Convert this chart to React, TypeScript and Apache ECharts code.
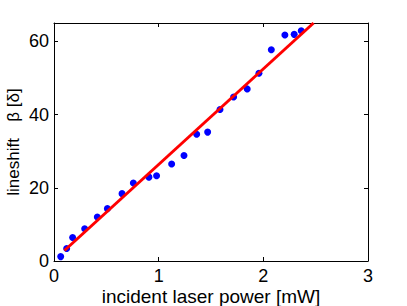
import React, { useEffect, useRef } from "react";
import * as echarts from "echarts";

const powerMW = [0.064, 0.121, 0.178, 0.293, 0.414, 0.51, 0.65, 0.758, 0.907, 0.98, 1.124, 1.242, 1.363, 1.468, 1.586, 1.716, 1.846, 1.958, 2.076, 2.206, 2.295, 2.362];
const lineshift = [1.2, 3.4, 6.4, 8.8, 12.0, 14.3, 18.4, 21.3, 22.9, 23.3, 26.5, 28.8, 34.6, 35.2, 41.4, 44.8, 47.0, 51.3, 57.7, 61.7, 61.9, 62.9];
const fitX = [0.1, 2.48];
const fitY = [2.87, 65];
const xTicks = [0, 1, 2, 3];
const yTicks = [0, 20, 40, 60];
const xName = "incident laser power [mW]";
const yNameMain = "lineshift";
const yNameSymbol = "  β [δ]";

export default function App() {
  const ref = useRef<HTMLDivElement>(null);
  useEffect(() => {
    if (!ref.current) return;
    const chart = echarts.init(ref.current, null, { renderer: "svg" });
    const font = "Liberation Sans, Arial, sans-serif";
    const axisCommon = {
      axisLine: { show: true, onZero: false, lineStyle: { color: "#000", width: 1 } },
      axisTick: { show: true, inside: true, length: 4, lineStyle: { color: "#000" } },
      splitLine: { show: false },
    };
    chart.setOption({
      animation: false,
      backgroundColor: "#fff",
      grid: { left: 54, right: 39, top: 23, bottom: 45, containLabel: false, outerBoundsMode: "none" },
      graphic: [
        {
          type: "text",
          x: 13,
          y: 142,
          rotation: Math.PI / 2,
          style: {
            text: "{a|" + yNameMain + "}{b|" + yNameSymbol + "}",
            fill: "#000",
            fontSize: 17,
            fontFamily: font,
            align: "center",
            verticalAlign: "middle",
            rich: {
              a: { fontSize: 17, fontFamily: font, fill: "#000", padding: [0, 7, 0, 0] },
              b: { fontSize: 17, fontFamily: font, fill: "#000" },
            },
          },
        },
        {
          type: "text",
          x: 211,
          y: 296,
          style: {
            text: xName,
            fill: "#000",
            fontSize: 19,
            fontFamily: font,
            align: "center",
            verticalAlign: "middle",
          },
        },
      ],
      xAxis: [
        {
          type: "value",
          min: xTicks[0],
          max: xTicks[xTicks.length - 1],
          interval: 1,
          position: "bottom",
          ...axisCommon,
          axisLabel: { color: "#000", fontSize: 18, fontFamily: font, margin: 6 },
        },
        {
          type: "value",
          min: 0,
          max: 3,
          interval: 1,
          position: "top",
          ...axisCommon,
          axisLabel: { show: false },
        },
      ],
      yAxis: [
        {
          type: "value",
          min: yTicks[0],
          max: 65,
          interval: 20,
          position: "left",
          ...axisCommon,
          axisLabel: { color: "#000", fontSize: 18, fontFamily: font, margin: 5, showMaxLabel: false },
        },
        {
          type: "value",
          min: 0,
          max: 65,
          interval: 20,
          position: "right",
          ...axisCommon,
          axisLabel: { show: false },
        },
      ],
      series: [
        {
          type: "scatter",
          data: powerMW.map((x, i) => [x, lineshift[i]]),
          symbol: "circle",
          symbolSize: 7,
          itemStyle: { color: "#0000ff", opacity: 1 },
          z: 2,
        },
        {
          type: "line",
          data: fitX.map((x, i) => [x, fitY[i]]),
          showSymbol: false,
          symbol: "none",
          lineStyle: { color: "#ff0000", width: 3 },
          z: 3,
        },
      ],
    });
    return () => chart.dispose();
  }, []);
  return <div ref={ref} style={{ width: 407, height: 306, position: "absolute", left: 0, top: 0 }} />;
}
